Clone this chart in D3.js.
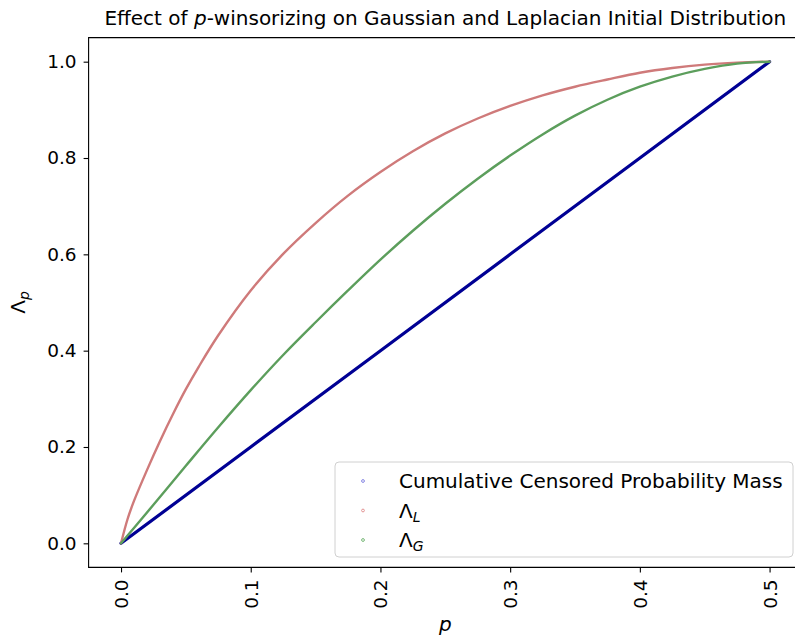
<!DOCTYPE html>
<html>
<head>
<meta charset="utf-8">
<script src="https://cdn.jsdelivr.net/npm/d3@7"></script>
<style>
  body { margin: 0; background: #fff; }
  svg { font-family: "DejaVu Sans", sans-serif; }
</style>
</head>
<body>
<div id="canvas"></div>
<script>
// values
const pMass = [0, 0.1, 0.2, 0.3, 0.4, 0.5];
const massValues = [0, 0.2, 0.4, 0.6, 0.8, 1.0];

const pLap = [0, 0.005, 0.01, 0.02, 0.03, 0.04, 0.05, 0.06, 0.075, 0.1, 0.125, 0.15, 0.175, 0.2,
              0.225, 0.25, 0.275, 0.3, 0.325, 0.35, 0.375, 0.4, 0.425, 0.45, 0.475, 0.5];
const lapValues = [0, 0.05, 0.088, 0.152, 0.212, 0.268, 0.32, 0.367, 0.432, 0.525, 0.601, 0.665, 0.722, 0.771,
                   0.814, 0.851, 0.882, 0.908, 0.93, 0.948, 0.963, 0.977, 0.987, 0.994, 0.998, 1.0];

const pGauss = [0, 0.025, 0.05, 0.075, 0.1, 0.125, 0.15, 0.175, 0.2, 0.225, 0.25, 0.275, 0.3,
                0.325, 0.35, 0.375, 0.4, 0.425, 0.45, 0.475, 0.5];
const gaussValues = [0, 0.08, 0.161, 0.241, 0.318, 0.391, 0.459, 0.525, 0.589, 0.649, 0.705, 0.757, 0.805,
                     0.849, 0.888, 0.921, 0.948, 0.969, 0.985, 0.996, 1.0];

const xTicks = [0.0, 0.1, 0.2, 0.3, 0.4, 0.5];
const yTicks = [0.0, 0.2, 0.4, 0.6, 0.8, 1.0];

const series = [
    { name: 'mass', label: 'Cumulative Censored Probability Mass', p: pMass, v: massValues, color: '#000094', dot: '#7a7ae0', width: 3.2 },
    { name: 'lap', label: 'L', p: pLap, v: lapValues, color: '#cf7a7a', dot: '#e08a8a', width: 2.4 },
    { name: 'gauss', label: 'G', p: pGauss, v: gaussValues, color: '#5c9e5c', dot: '#6ab06a', width: 2.4 }
];

(function() {
    const W = 795, H = 641;
    const m = { left: 88.6, right: 802, top: 37.6, bottom: 567.4 };

    const svg = d3.select('#canvas').append('svg').attr('width', W).attr('height', H);

    const x = d3.scaleLinear().domain([-0.025, 0.525]).range([m.left, m.right]);
    const y = d3.scaleLinear().domain([-0.05, 1.05]).range([m.bottom, m.top]);

    // curves (dense scatter in the original, drawn as thick strokes)
    series.forEach(s => {
        const pts = s.p.map((p, i) => [p, s.v[i]]);
        svg.append('path')
            .datum(pts)
            .attr('fill', 'none')
            .attr('stroke', s.color)
            .attr('stroke-width', s.width)
            .attr('stroke-linecap', 'round')
            .attr('d', d3.line().x(d => x(d[0])).y(d => y(d[1]))
                .curve(s.name === 'mass' ? d3.curveLinear : d3.curveCatmullRom.alpha(0.5)));
    });

    // axes
    const xAxis = svg.append('g')
        .attr('transform', `translate(0,${m.bottom})`)
        .call(d3.axisBottom(x).tickValues(xTicks).tickFormat(d3.format('.1f')).tickSize(5).tickPadding(8));
    xAxis.selectAll('text')
        .attr('transform', 'rotate(-90)')
        .attr('text-anchor', 'end')
        .attr('x', -12).attr('y', 0).attr('dy', '0.35em');

    const yAxis = svg.append('g')
        .attr('transform', `translate(${m.left},0)`)
        .call(d3.axisLeft(y).tickValues(yTicks).tickFormat(d3.format('.1f')).tickSize(5).tickPadding(7));

    [xAxis, yAxis].forEach(a => {
        a.select('.domain').remove();
        a.selectAll('line').attr('stroke', '#000').attr('stroke-width', 1.1);
        a.selectAll('text').attr('fill', '#000').style('font-size', '18.5px').style('font-family', '"DejaVu Sans", sans-serif');
    });

    // frame (right spine falls outside the picture)
    svg.append('path')
        .attr('d', `M${m.right},${m.top}H${m.left}V${m.bottom}H${m.right}`)
        .attr('fill', 'none').attr('stroke', '#000').attr('stroke-width', 1.1);

    // title
    const title = svg.append('text')
        .attr('x', (m.left + m.right) / 2).attr('y', 25)
        .attr('text-anchor', 'middle')
        .style('font-size', '20px');
    title.append('tspan').text('Effect of ');
    title.append('tspan').style('font-style', 'italic').text('p');
    title.append('tspan').text('-winsorizing on Gaussian and Laplacian Initial Distribution');

    // axis labels
    svg.append('text')
        .attr('x', (m.left + m.right) / 2).attr('y', 631)
        .attr('text-anchor', 'middle')
        .style('font-size', '20px').style('font-style', 'italic')
        .text('p');

    const yl = svg.append('text')
        .attr('transform', `translate(25,${(m.top + m.bottom) / 2}) rotate(-90)`)
        .attr('text-anchor', 'middle')
        .style('font-size', '20px');
    yl.append('tspan').text('Λ');
    yl.append('tspan').attr('dy', 4).style('font-size', '14px').style('font-style', 'italic').text('p');

    // legend
    const lg = svg.append('g');
    lg.append('rect')
        .attr('x', 335).attr('y', 462).attr('width', 458).attr('height', 95)
        .attr('rx', 4).attr('fill', '#fff').attr('fill-opacity', 0.8)
        .attr('stroke', '#d0d0d0').attr('stroke-width', 1);

    series.forEach((s, i) => {
        const cy = 481 + i * 29.5;
        lg.append('circle').attr('cx', 363).attr('cy', cy).attr('r', 1.4)
            .attr('fill', 'none').attr('stroke', s.dot).attr('stroke-width', 0.9);
        const t = lg.append('text').attr('x', 399).attr('y', cy).attr('dy', '0.35em').style('font-size', '20px');
        if (s.name === 'mass') {
            t.text(s.label);
        } else {
            t.append('tspan').text('Λ');
            t.append('tspan').attr('dy', 4).style('font-size', '14px').style('font-style', 'italic').text(s.label);
        }
    });
})();
</script>
</body>
</html>
